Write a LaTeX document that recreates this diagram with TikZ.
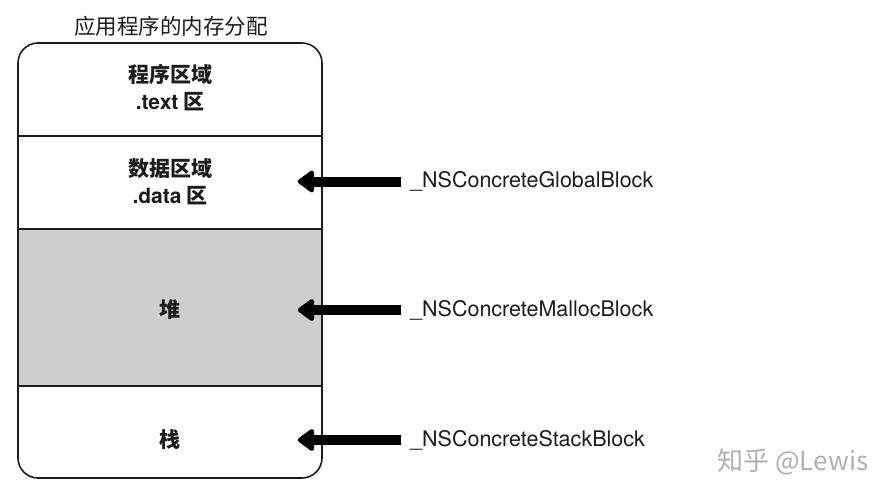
\documentclass[tikz,border=0pt]{standalone}
\usepackage{fontspec}
\setmainfont{TeX Gyre Heros}
\newfontfamily\cjk{Noto Sans CJK SC}
\usetikzlibrary{arrows.meta,positioning}
\definecolor{InkBlack}{HTML}{1C1C1C}
\definecolor{HeapGray}{HTML}{CECECE}
\definecolor{MarkGray}{HTML}{B0B0B0}

\begin{document}
\begin{tikzpicture}[x=1pt, y=-1pt,
    memory/.style={draw=InkBlack, line width=1.6pt, rounded corners=20pt, minimum width=304pt, minimum height=435pt, inner sep=0pt},
    heap/.style={draw=InkBlack, line width=1.3pt, fill=HeapGray, minimum width=304pt, minimum height=157pt, inner sep=0pt},
    area/.style={align=center, font=\cjk\bfseries\fontsize{21}{27}\selectfont, text=InkBlack, inner sep=0pt},
    block/.style={anchor=west, inner sep=0pt, font=\fontsize{21.5}{24}\selectfont, text=InkBlack},
    arrow/.style={-{Triangle[length=18pt,width=25pt,round]}, line width=10pt, color=black, shorten <=9pt, shorten >=-25pt}
  ]
    \useasboundingbox (0,0) rectangle (894,498);
    \node[font=\cjk\fontsize{21.5}{24}\selectfont, text=InkBlack] (title) at (171,26) {应用程序的内存分配};
    \node[heap] (heap) at (170,307.5) {};
    \node[memory] (mem) at (170,260.5) {};
    \draw[line width=1.3pt, InkBlack] (mem.west |- 0,136) -- (mem.east |- 0,136);
    \node[area] (textarea) at (170,88) {程序区域\\{\fontspec{TeX Gyre Heros}.text} 区};
    \node[area] (dataarea) at (170,181.5) {数据区域\\{\fontspec{TeX Gyre Heros}.data} 区};
    \node[area] (heaparea) at (170,310) {堆};
    \node[area] (stackarea) at (170,440) {栈};
    \node[block] (global) at (dataarea -| 410,0) {\_NSConcreteGlobalBlock};
    \node[block] (malloc) at (heaparea -| 410,0) {\_NSConcreteMallocBlock};
    \node[block] (stack) at (stackarea -| 410,0) {\_NSConcreteStackBlock};
    \draw[arrow] (global.west) -- (dataarea -| mem.east);
    \draw[arrow] (malloc.west) -- (heaparea -| mem.east);
    \draw[arrow] (stack.west) -- (stackarea -| mem.east);
    \node[font=\cjk\fontsize{26}{28}\selectfont, text=MarkGray] (mark) at (793,462) {知乎 @Lewis};
  \end{tikzpicture}
\end{document}
